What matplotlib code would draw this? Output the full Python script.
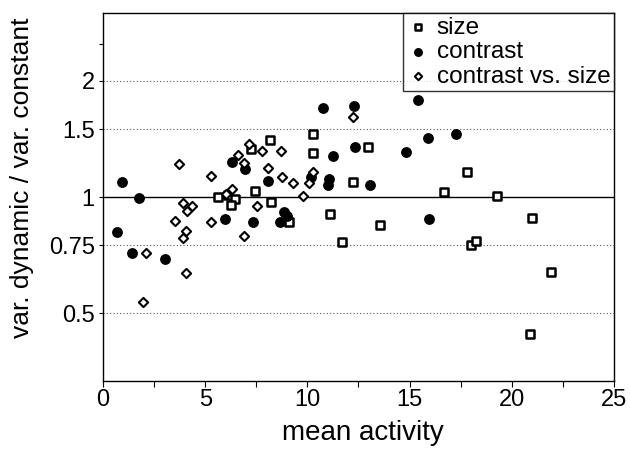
import matplotlib
matplotlib.use('Agg')
import matplotlib.pyplot as plt
from matplotlib.ticker import FixedLocator, NullFormatter

plt.rcParams['font.family'] = ['Liberation Sans', 'DejaVu Sans']

# size
size_x = [5.64, 6.13, 6.46, 6.25, 7.24, 8.17, 7.44, 8.20, 9.10, 10.29, 10.26, 11.10,
          11.68, 12.25, 12.98, 13.55, 16.68, 17.79, 17.99, 18.25, 19.26, 20.97, 21.92, 20.89]
size_y = [0.998, 1.012, 0.986, 0.953, 1.33, 1.404, 1.038, 0.969, 0.863, 1.455, 1.297, 0.904,
          0.764, 1.095, 1.349, 0.847, 1.028, 1.158, 0.749, 0.771, 1.008, 0.884, 0.641, 0.442]

# contrast
con_x = [0.67, 0.94, 1.43, 1.76, 3.05, 5.97, 6.30, 6.95, 7.32, 8.09, 8.66, 8.87, 8.99,
         10.16, 10.78, 11.24, 11.07, 11.00, 12.28, 12.34, 13.05, 14.82, 15.43, 15.92, 17.25, 15.95]
con_y = [0.813, 1.095, 0.718, 0.996, 0.690, 0.876, 1.23, 1.179, 0.862, 1.10, 0.862, 0.916, 0.893,
         1.124, 1.70, 1.28, 1.115, 1.075, 1.72, 1.349, 1.076, 1.31, 1.788, 1.426, 1.454, 0.877]

# contrast vs. size
cvs_x = [1.97, 2.10, 3.52, 3.73, 3.90, 3.93, 4.06, 4.06, 4.13, 4.34, 5.28, 5.28, 6.0, 6.33,
         6.59, 6.90, 6.91, 7.16, 7.52, 7.76, 8.09, 8.71, 8.74, 9.28, 9.77, 10.09, 10.29, 12.25]
cvs_y = [0.534, 0.718, 0.869, 1.22, 0.782, 0.967, 0.817, 0.637, 0.922, 0.950, 1.133, 0.863, 1.02, 1.049,
         1.284, 0.794, 1.227, 1.376, 0.946, 1.32, 1.186, 1.315, 1.124, 1.085, 1.006, 1.085, 1.162, 1.613]

y_ticks = [0.5, 0.75, 1, 1.5, 2]
y_tick_labels = ['0.5', '0.75', '1', '1.5', '2']
x_ticks = [0, 5, 10, 15, 20, 25]

fig = plt.figure(figsize=(6.3, 4.49), dpi=100)
ax = fig.add_axes([0.1635, 0.1514, 0.811, 0.8196])

# grid lines
for v in [0.5, 0.75, 1.5, 2]:
    ax.axhline(v, color='#555555', lw=0.8, ls=(0, (1, 2)), zorder=1)
ax.axhline(1, color='black', lw=1.0, zorder=1)

ax.scatter(size_x, size_y, marker='s', s=32, facecolors='white', edgecolors='black',
           linewidths=1.8, zorder=3, label='size')
ax.scatter(con_x, con_y, marker='o', s=46, color='black', zorder=3, label='contrast')
ax.scatter(cvs_x, cvs_y, marker='D', s=22, facecolors='white', edgecolors='black',
           linewidths=1.5, zorder=3, label='contrast vs. size')

ax.set_yscale('log')
ax.set_ylim(1 / 3, 3)
ax.set_xlim(0, 25)
ax.yaxis.set_major_locator(FixedLocator(y_ticks))
ax.set_yticklabels(y_tick_labels)
ax.yaxis.set_minor_locator(FixedLocator([2.5]))
ax.yaxis.set_minor_formatter(NullFormatter())
ax.set_xticks(x_ticks)
ax.xaxis.set_minor_locator(FixedLocator([2.5, 7.5, 12.5, 17.5, 22.5]))

ax.tick_params(axis='both', which='both', labelsize=17, length=4, width=0.8, direction='out')
ax.tick_params(axis='x', which='both', pad=2)
ax.tick_params(axis='y', which='both', length=3, pad=3)

ax.set_xlabel('mean activity', fontsize=20)
ax.set_ylabel('var. dynamic / var. constant', fontsize=19)
ax.xaxis.set_label_coords(0.509, -0.106)
ax.yaxis.set_label_coords(-0.135, 0.552)

for sp in ax.spines.values():
    sp.set_linewidth(1.0)

leg = ax.legend(loc='upper right', fontsize=17.5, frameon=True, fancybox=False,
                borderaxespad=0, handletextpad=0.25, borderpad=0.15, labelspacing=0.1,
                handlelength=1.0, scatterpoints=1, markerscale=0.8)
leg.get_frame().set_edgecolor('black')
leg.get_frame().set_linewidth(1.0)

plt.savefig('out.png', dpi=100)
